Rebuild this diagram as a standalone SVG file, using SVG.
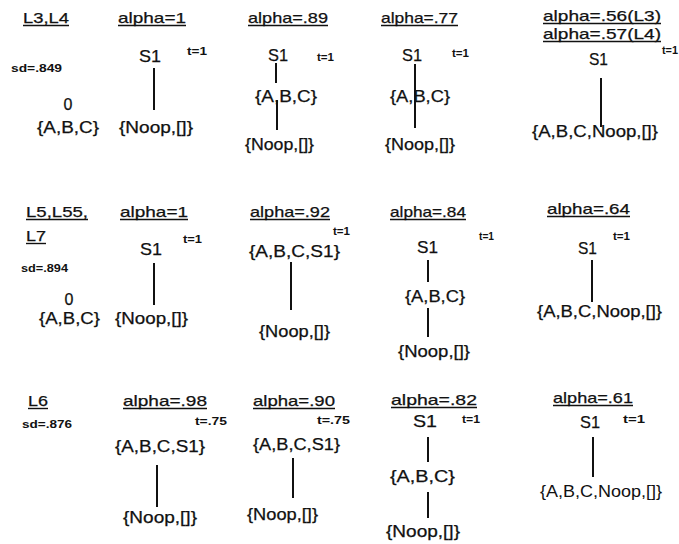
<svg xmlns="http://www.w3.org/2000/svg" width="679" height="544" viewBox="0 0 679 544">
<style>
text { font-family: "Liberation Sans", Arial, sans-serif; fill: #111; }
.h { font-size: 15px; stroke: #111; stroke-width: 0.25; }
.n { font-size: 16px; stroke: #111; stroke-width: 0.25; }
.s { font-size: 17px; stroke: #111; stroke-width: 0.25; }
.t { font-size: 10px; font-weight: bold; }
.sd { font-size: 10.5px; font-weight: bold; }
.ul { stroke: #111; stroke-width: 1.4; }
.e { stroke: #111; stroke-width: 2; fill: none; }
</style>
<rect width="679" height="544" fill="#fff"/>

<g id="headers">
  <text class="h" x="23" y="23" textLength="46" lengthAdjust="spacingAndGlyphs">L3,L4</text>
  <line class="ul" x1="23" y1="25.5" x2="69" y2="25.5"/>
  <text class="h" x="118" y="23" textLength="68" lengthAdjust="spacingAndGlyphs">alpha=1</text>
  <line class="ul" x1="118" y1="25.5" x2="186" y2="25.5"/>
  <text class="h" x="248" y="23" textLength="80" lengthAdjust="spacingAndGlyphs">alpha=.89</text>
  <line class="ul" x1="248" y1="25.5" x2="328" y2="25.5"/>
  <text class="h" x="381" y="23" textLength="77" lengthAdjust="spacingAndGlyphs">alpha=.77</text>
  <line class="ul" x1="381" y1="25.5" x2="458" y2="25.5"/>
  <text class="h" x="543" y="21" textLength="118" lengthAdjust="spacingAndGlyphs">alpha=.56(L3)</text>
  <line class="ul" x1="543" y1="23.5" x2="661" y2="23.5"/>
  <text class="h" x="543" y="39" textLength="118" lengthAdjust="spacingAndGlyphs">alpha=.57(L4)</text>
  <line class="ul" x1="543" y1="41.5" x2="661" y2="41.5"/>

  <text class="h" x="26" y="217" textLength="62" lengthAdjust="spacingAndGlyphs">L5,L55,</text>
  <line class="ul" x1="26" y1="219.5" x2="88" y2="219.5"/>
  <text class="h" x="26" y="241" textLength="20" lengthAdjust="spacingAndGlyphs">L7</text>
  <line class="ul" x1="26" y1="243.5" x2="46" y2="243.5"/>
  <text class="h" x="120" y="217" textLength="68" lengthAdjust="spacingAndGlyphs">alpha=1</text>
  <line class="ul" x1="120" y1="219.5" x2="188" y2="219.5"/>
  <text class="h" x="250" y="217" textLength="80" lengthAdjust="spacingAndGlyphs">alpha=.92</text>
  <line class="ul" x1="250" y1="219.5" x2="330" y2="219.5"/>
  <text class="h" x="390" y="217" textLength="76" lengthAdjust="spacingAndGlyphs">alpha=.84</text>
  <line class="ul" x1="390" y1="219.5" x2="466" y2="219.5"/>
  <text class="h" x="547" y="214" textLength="83" lengthAdjust="spacingAndGlyphs">alpha=.64</text>
  <line class="ul" x1="547" y1="216.5" x2="630" y2="216.5"/>

  <text class="h" x="28" y="406" textLength="20" lengthAdjust="spacingAndGlyphs">L6</text>
  <line class="ul" x1="28" y1="408.5" x2="48" y2="408.5"/>
  <text class="h" x="123" y="406" textLength="84" lengthAdjust="spacingAndGlyphs">alpha=.98</text>
  <line class="ul" x1="123" y1="408.5" x2="207" y2="408.5"/>
  <text class="h" x="253" y="406" textLength="82" lengthAdjust="spacingAndGlyphs">alpha=.90</text>
  <line class="ul" x1="253" y1="408.5" x2="335" y2="408.5"/>
  <text class="h" x="391" y="405" textLength="86" lengthAdjust="spacingAndGlyphs">alpha=.82</text>
  <line class="ul" x1="391" y1="407.5" x2="477" y2="407.5"/>
  <text class="h" x="553" y="403" textLength="80" lengthAdjust="spacingAndGlyphs">alpha=.61</text>
  <line class="ul" x1="553" y1="405.5" x2="633" y2="405.5"/>
</g>

<g id="connectors">
  <line class="e" x1="154" y1="68" x2="154" y2="110"/>
  <line class="e" x1="276" y1="63" x2="276" y2="83"/>
  <line class="e" x1="277" y1="100" x2="277" y2="130"/>
  <line class="e" x1="415" y1="64" x2="415" y2="128"/>
  <line class="e" x1="601" y1="78" x2="601" y2="127"/>

  <line class="e" x1="154" y1="263" x2="154" y2="305"/>
  <line class="e" x1="291" y1="262" x2="291" y2="310"/>
  <line class="e" x1="428" y1="260" x2="428" y2="282"/>
  <line class="e" x1="428" y1="308" x2="428" y2="337"/>
  <line class="e" x1="592" y1="260" x2="592" y2="302"/>

  <line class="e" x1="157" y1="465" x2="157" y2="507"/>
  <line class="e" x1="293" y1="458" x2="293" y2="498"/>
  <line class="e" x1="428" y1="437" x2="428" y2="462"/>
  <line class="e" x1="428" y1="492" x2="428" y2="518"/>
  <line class="e" x1="593" y1="437" x2="593" y2="477"/>
</g>

<g id="r1c0">
  <text class="sd" x="11" y="72" textLength="51" lengthAdjust="spacingAndGlyphs">sd=.849</text>
  <text class="n" x="68" y="110" text-anchor="middle">0</text>
  <text class="n" x="37" y="133" textLength="62" lengthAdjust="spacingAndGlyphs">{A,B,C}</text>
</g>
<g id="r1c1">
  <text class="s" x="139" y="62" textLength="22" lengthAdjust="spacingAndGlyphs">S1</text>
  <text class="t" x="187" y="55" textLength="20" lengthAdjust="spacingAndGlyphs">t=1</text>
  <text class="n" x="119" y="133" textLength="74" lengthAdjust="spacingAndGlyphs">{Noop,[]}</text>
</g>
<g id="r1c2">
  <text class="s" x="268" y="61" textLength="20" lengthAdjust="spacingAndGlyphs">S1</text>
  <text class="t" x="317" y="61" textLength="17" lengthAdjust="spacingAndGlyphs">t=1</text>
  <text class="n" x="255" y="102" textLength="62" lengthAdjust="spacingAndGlyphs">{A,B,C}</text>
  <text class="n" x="245" y="150" textLength="69" lengthAdjust="spacingAndGlyphs">{Noop,[]}</text>
</g>
<g id="r1c3">
  <text class="s" x="402" y="61" textLength="20" lengthAdjust="spacingAndGlyphs">S1</text>
  <text class="t" x="452" y="57" textLength="17" lengthAdjust="spacingAndGlyphs">t=1</text>
  <text class="n" x="390" y="102" textLength="60" lengthAdjust="spacingAndGlyphs">{A,B,C}</text>
  <text class="n" x="385" y="150" textLength="70" lengthAdjust="spacingAndGlyphs">{Noop,[]}</text>
</g>
<g id="r1c4">
  <text class="s" x="589" y="65" textLength="19" lengthAdjust="spacingAndGlyphs">S1</text>
  <text class="t" x="662" y="54" textLength="16" lengthAdjust="spacingAndGlyphs">t=1</text>
  <text class="n" x="532" y="137" textLength="126" lengthAdjust="spacingAndGlyphs">{A,B,C,Noop,[]}</text>
</g>

<g id="r2c0">
  <text class="sd" x="21" y="272" textLength="47" lengthAdjust="spacingAndGlyphs">sd=.894</text>
  <text class="n" x="69" y="305" text-anchor="middle">0</text>
  <text class="n" x="39" y="324" textLength="61" lengthAdjust="spacingAndGlyphs">{A,B,C}</text>
</g>
<g id="r2c1">
  <text class="s" x="140" y="255" textLength="22" lengthAdjust="spacingAndGlyphs">S1</text>
  <text class="t" x="183" y="243" textLength="19" lengthAdjust="spacingAndGlyphs">t=1</text>
  <text class="n" x="115" y="324" textLength="73" lengthAdjust="spacingAndGlyphs">{Noop,[]}</text>
</g>
<g id="r2c2">
  <text class="t" x="333" y="235" textLength="17" lengthAdjust="spacingAndGlyphs">t=1</text>
  <text class="n" x="249" y="257" textLength="91" lengthAdjust="spacingAndGlyphs">{A,B,C,S1}</text>
  <text class="n" x="259" y="337" textLength="71" lengthAdjust="spacingAndGlyphs">{Noop,[]}</text>
</g>
<g id="r2c3">
  <text class="s" x="417" y="253" textLength="21" lengthAdjust="spacingAndGlyphs">S1</text>
  <text class="t" x="479" y="240" textLength="15" lengthAdjust="spacingAndGlyphs">t=1</text>
  <text class="n" x="405" y="302" textLength="60" lengthAdjust="spacingAndGlyphs">{A,B,C}</text>
  <text class="n" x="398" y="357" textLength="72" lengthAdjust="spacingAndGlyphs">{Noop,[]}</text>
</g>
<g id="r2c4">
  <text class="s" x="578" y="254" textLength="19" lengthAdjust="spacingAndGlyphs">S1</text>
  <text class="t" x="613" y="240" textLength="17" lengthAdjust="spacingAndGlyphs">t=1</text>
  <text class="n" x="537" y="317" textLength="125" lengthAdjust="spacingAndGlyphs">{A,B,C,Noop,[]}</text>
</g>

<g id="r3c0">
  <text class="sd" x="22" y="428" textLength="50" lengthAdjust="spacingAndGlyphs">sd=.876</text>
</g>
<g id="r3c1">
  <text class="t" x="195" y="425" textLength="32" lengthAdjust="spacingAndGlyphs">t=.75</text>
  <text class="n" x="115" y="452" textLength="90" lengthAdjust="spacingAndGlyphs">{A,B,C,S1}</text>
  <text class="n" x="123" y="523" textLength="74" lengthAdjust="spacingAndGlyphs">{Noop,[]}</text>
</g>
<g id="r3c2">
  <text class="t" x="317" y="424" textLength="33" lengthAdjust="spacingAndGlyphs">t=.75</text>
  <text class="n" x="253" y="450" textLength="87" lengthAdjust="spacingAndGlyphs">{A,B,C,S1}</text>
  <text class="n" x="247" y="520" textLength="71" lengthAdjust="spacingAndGlyphs">{Noop,[]}</text>
</g>
<g id="r3c3">
  <text class="s" x="413" y="427" textLength="24" lengthAdjust="spacingAndGlyphs">S1</text>
  <text class="t" x="462" y="423" textLength="18" lengthAdjust="spacingAndGlyphs">t=1</text>
  <text class="n" x="390" y="482" textLength="65" lengthAdjust="spacingAndGlyphs">{A,B,C}</text>
  <text class="n" x="386" y="537" textLength="74" lengthAdjust="spacingAndGlyphs">{Noop,[]}</text>
</g>
<g id="r3c4">
  <text class="s" x="580" y="428" textLength="20" lengthAdjust="spacingAndGlyphs">S1</text>
  <text class="t" x="623" y="423" textLength="22" lengthAdjust="spacingAndGlyphs">t=1</text>
  <text class="n" x="540" y="497" textLength="122" lengthAdjust="spacingAndGlyphs" style="stroke-width:0">{A,B,C,Noop,[]}</text>
</g>
</svg>
